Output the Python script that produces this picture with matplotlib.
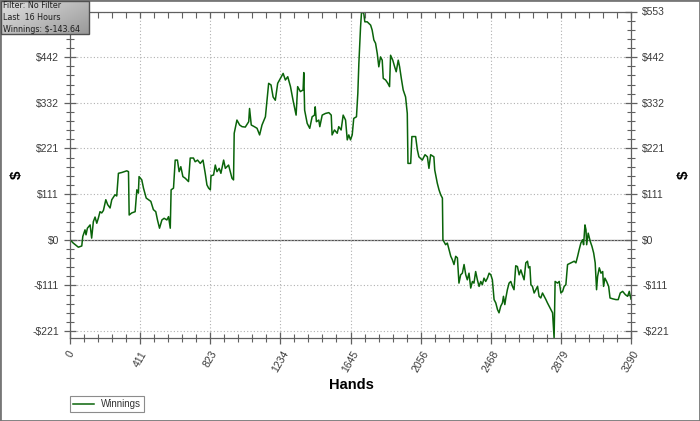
import matplotlib
matplotlib.use("Agg")
import matplotlib.pyplot as plt
import numpy as np
from matplotlib.patches import Rectangle
from matplotlib.ticker import FixedLocator, AutoMinorLocator

# data (hand number, cumulative winnings in $)
hands = [0, 19, 49, 69, 75, 88, 94, 102, 118, 127, 137, 147, 157, 166, 176, 186, 196, 210, 221, 235,
         245, 264, 274, 284, 304, 333, 343, 347, 362, 382, 392, 401, 405, 421, 431, 447, 460, 474, 489, 503,
         513, 525, 539, 552, 568, 578, 588, 593, 607, 617, 630, 640, 650, 662, 676, 695, 705, 724, 734, 748,
         764, 780, 793, 803, 813, 823, 827, 842, 852, 862, 875, 885, 901, 911, 930, 940, 950, 959, 963, 979,
         995, 1009, 1028, 1048, 1053, 1063, 1081, 1097, 1112, 1126, 1146, 1165, 1179, 1191, 1204, 1218, 1234, 1250, 1263, 1277,
         1293, 1308, 1326, 1335, 1351, 1367, 1371, 1376, 1391, 1406, 1420, 1434, 1438, 1445, 1459, 1465, 1479, 1498, 1518, 1532,
         1537, 1551, 1567, 1576, 1590, 1602, 1616, 1626, 1635, 1645, 1655, 1664, 1680, 1688, 1694, 1704, 1710, 1723, 1729, 1743,
         1763, 1772, 1782, 1792, 1802, 1811, 1821, 1831, 1837, 1851, 1864, 1874, 1880, 1893, 1904, 1913, 1925, 1933, 1943, 1954,
         1968, 1978, 1982, 1998, 2005, 2027, 2037, 2046, 2066, 2082, 2096, 2105, 2115, 2134, 2139, 2154, 2164, 2174, 2184, 2187,
         2203, 2213, 2223, 2233, 2242, 2252, 2262, 2272, 2281, 2291, 2301, 2311, 2321, 2330, 2340, 2350, 2360, 2369, 2379, 2389,
         2399, 2409, 2418, 2428, 2438, 2448, 2458, 2468, 2477, 2487, 2497, 2507, 2516, 2526, 2536, 2542, 2550, 2556, 2565, 2575,
         2585, 2595, 2604, 2614, 2624, 2634, 2644, 2653, 2663, 2673, 2683, 2689, 2697, 2703, 2712, 2722, 2732, 2742, 2751, 2761,
         2771, 2781, 2791, 2800, 2810, 2820, 2830, 2839, 2845, 2859, 2869, 2879, 2889, 2898, 2908, 2918, 2938, 2957, 2967, 2977,
         2986, 2996, 3006, 3012, 3020, 3026, 3030, 3039, 3051, 3061, 3071, 3080, 3088, 3094, 3104, 3114, 3124, 3129, 3137, 3147,
         3159, 3167, 3182, 3202, 3215, 3227, 3241, 3257, 3270, 3280, 3290]
winnings = [0, -8, -18, -15, 8, 24, 12, 28, 36, 4, 44, 55, 40, 52, 68, 65, 71, 97, 85, 77,
            97, 109, 106, 161, 163, 167, 165, 60, 65, 68, 121, 113, 153, 145, 125, 101, 97, 93, 73, 68,
            48, 28, 48, 52, 48, 56, 28, 121, 125, 193, 193, 165, 177, 153, 149, 141, 198, 198, 189, 193,
            185, 193, 161, 133, 125, 121, 155, 157, 181, 165, 173, 161, 193, 173, 181, 165, 149, 145, 258, 290,
            278, 274, 273, 286, 318, 278, 274, 270, 254, 278, 298, 379, 375, 346, 338, 379, 391, 403, 387, 395,
            371, 338, 302, 371, 359, 363, 405, 314, 282, 270, 298, 302, 322, 286, 290, 274, 302, 306, 308, 302,
            254, 266, 258, 274, 266, 302, 290, 242, 254, 242, 254, 294, 298, 355, 427, 516, 553, 548, 528, 528,
            520, 508, 484, 476, 451, 419, 443, 435, 391, 387, 379, 371, 447, 435, 419, 407, 435, 419, 391, 363,
            346, 306, 185, 185, 250, 250, 218, 201, 193, 206, 201, 173, 206, 201, 169, 137, 121, 109, 101, 0,
            -12, -8, -24, -40, -48, -60, -40, -44, -105, -85, -81, -60, -85, -97, -81, -117, -101, -105, -77, -97,
            -113, -101, -109, -93, -101, -93, -81, -85, -97, -145, -153, -169, -177, -161, -153, -137, -157, -141, -121, -105,
            -101, -113, -121, -63, -65, -85, -73, -85, -97, -56, -52, -68, -65, -109, -113, -129, -121, -113, -137, -141,
            -129, -137, -145, -153, -161, -169, -177, -238, -101, -105, -101, -129, -125, -113, -109, -60, -56, -52, -56, -40,
            -24, -8, 0, -12, 36, 24, -12, 16, -4, -16, -32, -56, -121, -89, -68, -81, -77, -113, -93, -101,
            -113, -141, -143, -145, -145, -129, -125, -133, -137, -125, -143.64]

filter_lines = ["Filter: No Filter", "Last  16 Hours", "Winnings: $-143.64"]
series_name = "Winnings"

hands = np.array(hands)
winnings = np.array(winnings)
ymax = winnings.max()
ymin = winnings.min()
xmax = hands.max()

W, H = 700, 421
fig = plt.figure(figsize=(7, 4.21), dpi=100)
ax = fig.add_axes([70 / W, 1 - 338 / H, 561 / W, (338 - 11.5) / H])

line_col = "#0a640a"
ax.plot(hands, winnings, color=line_col, lw=1.1, label=series_name)

ax.set_xlim(0, xmax)
ax.set_ylim(ymin, ymax)

step_y = ymax / 5
yt = np.arange(-2, 6) * step_y
xt = np.linspace(0, xmax, 9)

def money(v):
    r = int(np.floor(abs(v) + 0.5))
    return "$%d" % r if v >= 0 else "-$%d" % r

ax.yaxis.set_major_locator(FixedLocator(yt))
ax.set_yticklabels([money(v) for v in yt])
ax.xaxis.set_major_locator(FixedLocator(xt))
ax.set_xticklabels(["%d" % np.floor(v + 0.5) for v in xt], rotation=60, ha="center")
ax.xaxis.set_minor_locator(AutoMinorLocator(5))
ax.yaxis.set_minor_locator(AutoMinorLocator(5))

spine_col = "#606060"
for s in ax.spines.values():
    s.set_color(spine_col)
    s.set_linewidth(0.9)

ax.tick_params(which="major", direction="inout", length=9, width=0.9, color=spine_col,
               labelsize=7.5, labelcolor="#3a3a3a", left=True, right=True, bottom=True, top=False,
               labelleft=True, labelright=True)
ax.tick_params(which="minor", direction="inout", length=6, width=0.8, color=spine_col,
               left=True, right=True, bottom=True, top=False)
ax.xaxis.set_tick_params(which="both", top=True)
# top ticks point inward only
for tk in ax.xaxis.get_major_ticks() + ax.xaxis.get_minor_ticks():
    tk.tick2line.set_marker(matplotlib.lines.TICKDOWN)
    tk.tick2line.set_markersize(4)
for lab in ax.get_xticklabels() + ax.get_yticklabels():
    lab.set_family(["Liberation Sans", "DejaVu Sans"])

ax.grid(True, which="major", color="#b0b0b0", linestyle=(0, (1, 2)), lw=0.8)
ax.axhline(0, color="#505050", lw=0.9, zorder=1)

fig.text(17 / W, 1 - 175 / H, "$", rotation=90, ha="center", va="center",
         fontsize=11, fontweight="bold", family=["Liberation Sans", "DejaVu Sans"])
fig.text(684 / W, 1 - 175 / H, "$", rotation=90, ha="center", va="center",
         fontsize=11, fontweight="bold", family=["Liberation Sans", "DejaVu Sans"])
fig.text(351 / W, 1 - 385 / H, "Hands", ha="center", va="center",
         fontsize=10.5, fontweight="bold", family=["Liberation Sans", "DejaVu Sans"])

leg = fig.legend(loc="upper left", bbox_to_anchor=(70 / W, 1 - 396 / H), fontsize=7,
                 frameon=True, fancybox=False, handlelength=2.2, borderpad=0.3,
                 handletextpad=0.7, borderaxespad=0)
leg.get_frame().set_edgecolor("#707070")
leg.get_frame().set_linewidth(0.8)
for t in leg.get_texts():
    t.set_family(["Liberation Sans", "DejaVu Sans"])
    t.set_color("#333333")

# info box in the corner: gradient image + border, no extra axes
bw, bh = 88, 33
gx, gy = np.meshgrid(np.linspace(0, 1, bw), np.linspace(0, 1, bh))
g = 0.88 - 0.16 * gx - 0.12 * gy
fig.figimage(np.dstack([g, g, g]), xo=1, yo=H - 1 - bh, origin="upper", zorder=3)
fig.patches.append(Rectangle((1 / W, 1 - (bh + 1) / H), bw / W, bh / H, transform=fig.transFigure,
                             fill=False, edgecolor="#505050", lw=1, zorder=4))
fig.text(3 / W, 1 - 17.8 / H, "\n".join(filter_lines), fontsize=5.8, linespacing=1.45,
         color="#1e1e1e", va="center", ha="left", family="DejaVu Sans", zorder=5)

fig.patches.append(Rectangle((0, 0), 1, 1, transform=fig.transFigure, fill=False,
                             edgecolor="#777777", lw=2))

fig.savefig("out.png", dpi=100)
